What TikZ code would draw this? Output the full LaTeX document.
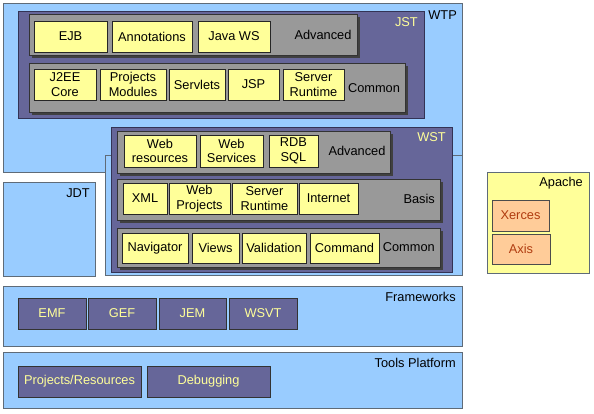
\documentclass[tikz,border=0pt]{standalone}
\usepackage{fontspec}
\setmainfont{Liberation Sans}
\usetikzlibrary{shadows}
\definecolor{wblue}{HTML}{99CCFF}
\definecolor{wpurple}{HTML}{666699}
\definecolor{darkpurple}{HTML}{333355}
\definecolor{rowgray}{HTML}{999999}
\definecolor{wyellow}{HTML}{FFFF99}
\definecolor{peach}{HTML}{FFCC99}
\definecolor{rust}{HTML}{B03C10}
\definecolor{bordergray}{HTML}{5F6B78}
\newcommand\fsz{\fontsize{12.8}{14.8}\selectfont}
\newcommand\boxat[7]{\node[#1, minimum width={#5-#3}, minimum height={#6-#4}] (#2) at ({(#3+#5)/2},{(#4+#6)/2}) {#7};}
\tikzset{
  base/.style={rectangle, inner sep=0pt, outer sep=0pt, line width=0.9pt, font=\fsz, align=center},
  bluebox/.style={base, fill=wblue, draw=bordergray},
  purplebox/.style={base, fill=wpurple, draw=darkpurple},
  rowbox/.style={base, fill=rowgray, draw=black!80, general shadow={fill=black!75, shadow xshift=3pt, shadow yshift=-3pt}},
  ybox/.style={base, fill=wyellow, draw=black!85},
  pbox/.style={base, fill=wpurple, draw=black!80, text=wyellow},
  obox/.style={base, fill=peach, draw=black!70, text=rust},
  apbox/.style={base, fill=wyellow, draw=bordergray},
  lbl/.style={font=\fsz, inner sep=0pt},
  ylbl/.style={lbl, text=wyellow},
}
\begin{document}
\begin{tikzpicture}[x=1pt,y=-1pt]
\useasboundingbox[fill=white] (0,0) rectangle (594,413);
% WTP
\boxat{bluebox}{wtp}{3}{3}{462}{172}{}
\boxat{bluebox}{wtpback}{105}{155}{462}{275}{}
\node[lbl, anchor=east] (wtplbl) at (457,15) {WTP};
% JST
\boxat{purplebox}{jst}{18}{11}{424}{118}{}
\node[ylbl, anchor=east] (jstlbl) at (418,22) {JST};
\boxat{rowbox}{jstadv}{29}{14}{357}{55}{}
\boxat{ybox}{ejb}{34}{21}{107}{52}{EJB}
\boxat{ybox}{annot}{112}{21}{192}{52}{Annotations}
\boxat{ybox}{javaws}{198}{21}{270}{52}{Java WS}
\node[lbl] (jstadvlbl) at (323,35) {Advanced};
\boxat{rowbox}{jstcom}{29}{63}{405}{112}{}
\boxat{ybox}{j2ee}{34}{69}{96}{100}{J2EE\\Core}
\boxat{ybox}{projmod}{100}{69}{166}{100}{Projects\\Modules}
\boxat{ybox}{servlets}{169}{69}{225}{100}{Servlets}
\boxat{ybox}{jsp}{228}{69}{279}{100}{JSP}
\boxat{ybox}{jstsrv}{283}{69}{344}{100}{Server\\Runtime}
\node[lbl] (jstcomlbl) at (374,88) {Common};
% WST
\boxat{purplebox}{wst}{111}{127}{452}{272}{}
\node[ylbl, anchor=east] (wstlbl) at (446,137) {WST};
\boxat{rowbox}{wstadv}{117}{131}{390}{173}{}
\boxat{ybox}{webres}{124}{135}{196}{167}{Web\\resources}
\boxat{ybox}{websvc}{200}{135}{263}{167}{Web\\Services}
\boxat{ybox}{rdb}{269}{135}{318}{167}{RDB\\SQL}
\node[lbl] (wstadvlbl) at (357,151) {Advanced};
\boxat{rowbox}{wstbas}{117}{179}{440}{220}{}
\boxat{ybox}{xml}{123}{183}{167}{214}{XML}
\boxat{ybox}{webproj}{169}{183}{230}{214}{Web\\Projects}
\boxat{ybox}{wstsrv}{232}{183}{297}{214}{Server\\Runtime}
\boxat{ybox}{internet}{299}{183}{358}{214}{Internet}
\node[lbl, anchor=east] (wstbaslbl) at (435,199) {Basis};
\boxat{rowbox}{wstcom}{117}{228}{440}{267}{}
\boxat{ybox}{nav}{122}{233}{188}{263}{Navigator}
\boxat{ybox}{views}{192}{233}{239}{263}{Views}
\boxat{ybox}{valid}{242}{233}{306}{263}{Validation}
\boxat{ybox}{command}{310}{233}{379}{263}{Command}
\node[lbl, anchor=east] (wstcomlbl) at (435,247) {Common};
% JDT
\boxat{bluebox}{jdt}{3}{182}{95}{276}{}
\node[lbl, anchor=east] (jdtlbl) at (90,193) {JDT};
% Apache
\boxat{apbox}{apache}{487}{172}{589}{273}{}
\node[lbl, anchor=east] (apachelbl) at (583,183) {Apache};
\boxat{obox}{xerces}{492}{200}{549}{231}{Xerces}
\boxat{obox}{axis}{492}{234}{550}{264}{Axis}
% Frameworks
\boxat{bluebox}{frameworks}{3}{286}{462}{346}{}
\node[lbl, anchor=east] (fwlbl) at (456,297) {Frameworks};
\boxat{pbox}{emf}{18}{298}{86}{329}{EMF}
\boxat{pbox}{gef}{88}{298}{156}{329}{GEF}
\boxat{pbox}{jem}{159}{298}{226}{329}{JEM}
\boxat{pbox}{wsvt}{229}{298}{297}{329}{WSVT}
% Tools Platform
\boxat{bluebox}{tools}{3}{352}{462}{408}{}
\node[lbl, anchor=east] (toolslbl) at (456,363) {Tools Platform};
\boxat{pbox}{projres}{18}{366}{141}{397}{Projects/Resources}
\boxat{pbox}{debug}{147}{366}{270}{397}{Debugging}
\end{tikzpicture}
\end{document}
